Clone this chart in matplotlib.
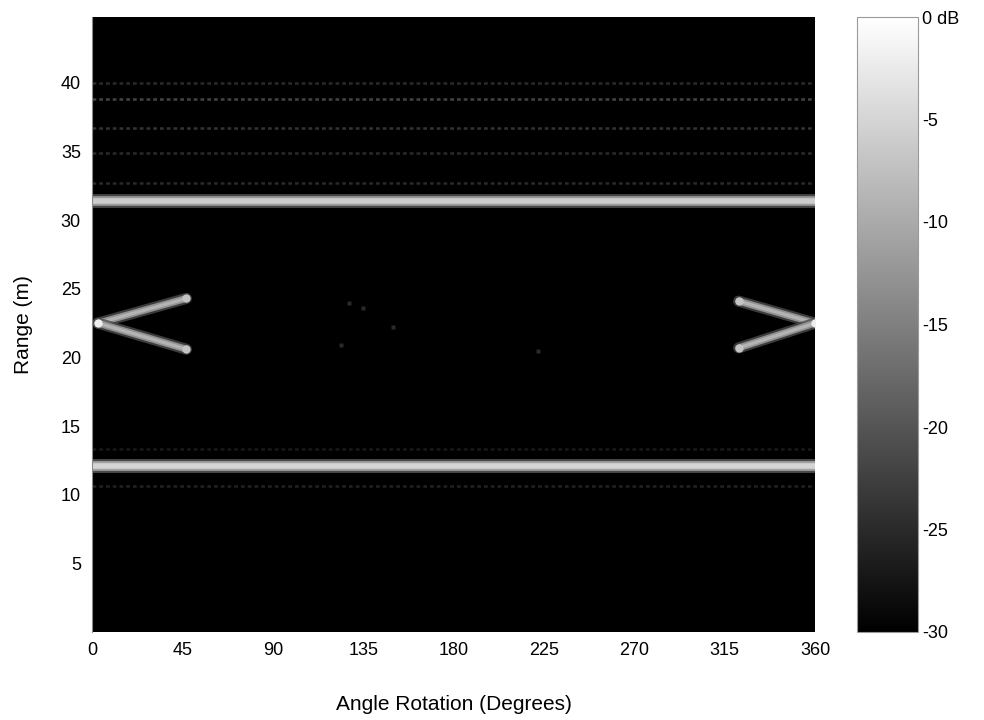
import matplotlib.pyplot as plt
from matplotlib import colors, cm

plt.rcParams['font.family'] = ['Liberation Sans', 'DejaVu Sans']

# bright wall returns: range (m), level (dB)
wall_ranges = [31.4, 12.1]
wall_levels = [-6.0, -5.0]

# faint clutter rows above / around the walls
clutter_ranges = [40.0, 38.8, 36.7, 34.9, 32.7, 13.3, 10.6]
clutter_levels = [-25.0, -22.0, -24.0, -25.0, -25.0, -27.0, -26.0]

# V-shaped target traces: apex and the two arm ends (angle, range)
v_apex = [(3, 22.5), (360, 22.5)]
v_upper = [(47, 24.3), (322, 24.1)]
v_lower = [(47, 20.6), (322, 20.7)]
v_arm_level = -9.0
v_end_level = -7.0
v_apex_level = -2.0

# small speckles in the empty middle
speck_angle = [128, 135, 124, 222, 150]
speck_range = [24.0, 23.6, 20.9, 20.5, 22.2]
speck_level = -25.0

x_ticks = [0, 45, 90, 135, 180, 225, 270, 315, 360]
y_ticks = [5, 10, 15, 20, 25, 30, 35, 40]
cb_ticks = [-30, -25, -20, -15, -10, -5, 0]
cb_labels = ['-30', '-25', '-20', '-15', '-10', '-5', '0 dB']

norm = colors.Normalize(vmin=-30, vmax=0)
cmap = plt.get_cmap('gray')

fig = plt.figure(figsize=(9.84, 7.2), dpi=100)
ax = fig.add_axes([92 / 984, 1 - 632 / 720, 723 / 984, 615 / 720])
ax.set_facecolor('black')

# walls with a soft glow
for r, lev in zip(wall_ranges, wall_levels):
    ax.axhline(r, color=cmap(norm(lev - 14)), lw=10, alpha=0.8)
    ax.axhline(r, color=cmap(norm(lev - 6)), lw=7)
    ax.axhline(r, color=cmap(norm(lev)), lw=4)

for r, lev in zip(clutter_ranges, clutter_levels):
    ax.axhline(r, color=cmap(norm(lev)), lw=1.8, ls=(0, (1.5, 1.2)))

for apex, up, lo in zip(v_apex, v_upper, v_lower):
    for end in (up, lo):
        ax.plot([apex[0], end[0]], [apex[1], end[1]], color=cmap(norm(v_arm_level - 12)),
                lw=8, alpha=0.8, solid_capstyle='round')
        ax.plot([apex[0], end[0]], [apex[1], end[1]], color=cmap(norm(v_arm_level - 4)),
                lw=5, solid_capstyle='round')
        ax.plot([apex[0], end[0]], [apex[1], end[1]], color=cmap(norm(v_arm_level)),
                lw=2.5, solid_capstyle='round')
        ax.plot(end[0], end[1], 'o', ms=6, color=cmap(norm(v_end_level)), mec='none')
    ax.plot(apex[0], apex[1], 'o', ms=6, color=cmap(norm(v_apex_level)), mec='none')

ax.plot(speck_angle, speck_range, 's', ms=2.5, color=cmap(norm(speck_level)), mec='none')

ax.set_xlim(0, 360)
ax.set_ylim(0, 44.8)
ax.set_xticks(x_ticks)
ax.set_yticks(y_ticks)
ax.tick_params(length=0, labelsize=13)
ax.tick_params(axis='x', pad=7)
ax.tick_params(axis='y', pad=8)
for s in ax.spines.values():
    s.set_visible(False)
ax.spines['left'].set_visible(True)
ax.spines['left'].set_color('#8a8a8a')
ax.set_xlabel('Angle Rotation (Degrees)', fontsize=15, labelpad=26)
ax.set_ylabel('Range (m)', fontsize=15, labelpad=20)

cax = fig.add_axes([857 / 984, 1 - 632 / 720, 61 / 984, 615 / 720])
cb = fig.colorbar(cm.ScalarMappable(norm=norm, cmap=cmap), cax=cax)
cb.set_ticks(cb_ticks)
cb.set_ticklabels(cb_labels)
cb.ax.tick_params(length=0, labelsize=13, pad=3)
cb.outline.set_edgecolor('#9a9a9a')
cb.outline.set_linewidth(0.8)

fig.savefig('out.png', dpi=100)
